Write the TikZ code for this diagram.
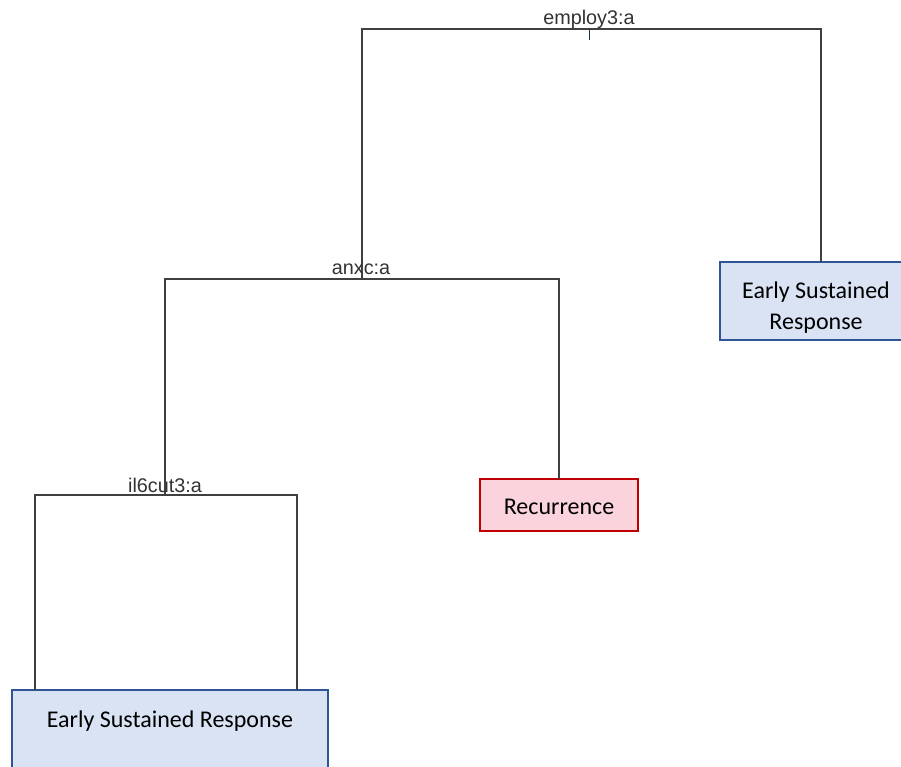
\documentclass[tikz,border=0pt]{standalone}
\usepackage{fontspec}
\setmainfont{Carlito}
\newfontfamily\labfont{Liberation Sans}
\definecolor{linegray}{HTML}{404040}
\definecolor{bluefill}{HTML}{DAE3F3}
\definecolor{blueline}{HTML}{2F5597}
\definecolor{pinkfill}{HTML}{FAD3DC}
\definecolor{redline}{HTML}{C00000}
\begin{document}
\begin{tikzpicture}[x=1pt,y=-1pt,
  branch/.style={draw=linegray,line width=1.2pt},
  splitlab/.style={font=\labfont\fontsize{19.8}{22}\selectfont,text=black!80,inner sep=0pt,anchor=base},
  leafbox/.style={draw=blueline,fill=bluefill,line width=1.8pt,inner sep=0pt},
  recbox/.style={draw=redline,fill=pinkfill,line width=1.8pt,inner sep=0pt},
  leaftext/.style={font=\fontsize{24}{31}\selectfont,align=center,inner sep=0pt}]
\useasboundingbox (0,0) rectangle (901,766);
\clip (0,0) rectangle (901,766);
% leaf boxes
\path[leafbox] (720,262) rectangle (905,340);
\node[leaftext] (leafR) at (816,308) {Early Sustained\\Response};
\path[recbox] (480,479) rectangle (638,531);
\node[leaftext] (rec) at (559,507) {Recurrence};
\path[leafbox] (12,690) rectangle (328,790);
\node[leaftext] (leafB) at (170,721) {Early Sustained Response};
% coordinates
\coordinate (t1) at (362,29);
\coordinate (t2) at (821,29);
\coordinate (a1) at (165,279);
\coordinate (a2) at (559,279);
\coordinate (i1) at (35,495);
\coordinate (i2) at (297,495);
% top split
\draw[branch] (362,279) -- (t1) -- (t2) -- (821,262);
\draw[blueline!60!black,line width=1pt] (589,29) -- (589,40);
\node[splitlab] (lab1) at (589,24) {employ3:a};
% anxc split
\draw[branch] (165,495) -- (a1) -- (a2) -- (559,479);
\node[splitlab] (lab2) at (361,274) {anxc:a};
\draw[linegray,line width=1pt] (362,260) -- (362,279);
% il6cut3 split
\draw[branch] (35,690) -- (i1) -- (i2) -- (297,690);
\node[splitlab] (lab3) at (165,492) {il6cut3:a};
\draw[linegray,line width=1pt] (165,478) -- (165,495);
\end{tikzpicture}
\end{document}
